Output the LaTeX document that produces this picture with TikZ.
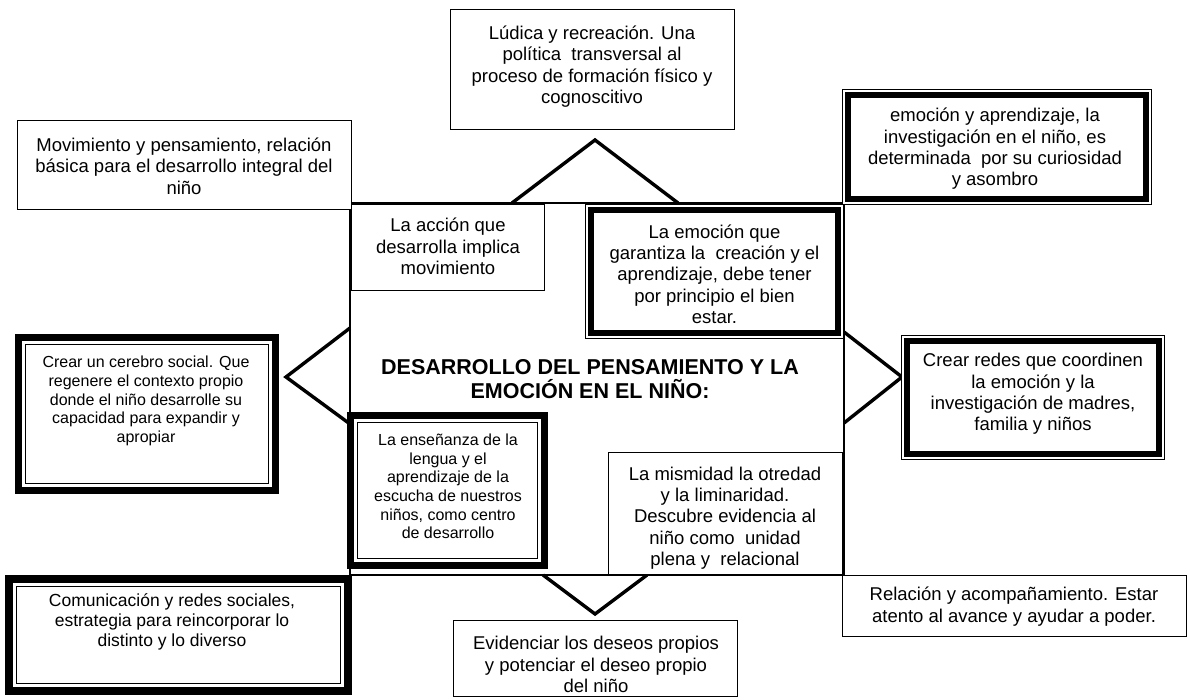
\documentclass[tikz,border=0pt]{standalone}
\usepackage{fontspec}
\setmainfont{Liberation Sans}
\usetikzlibrary{calc}
\newcommand\innerframe[3]{\draw[line width=#3] ($(#1.north west)+(#2,#2)$) rectangle ($(#1.south east)-(#2,#2)$);}
\tikzset{
  every node/.style={inner sep=0pt, outer sep=0pt},
  plainbox/.style={draw, line width=1.3pt, fill=white},
  thinthick/.style={draw, line width=1.3pt, fill=white},
  thickthin/.style={draw, line width=7pt, fill=white},
  centerbox/.style={draw, line width=1.2pt},
  chev/.style={line width=3.4pt, line join=miter},
  txt/.style={align=center, font=\fontsize{18.5}{21.3}\selectfont},
  smalltxt/.style={align=center, font=\fontsize{16}{18.6}\selectfont},
  titletxt/.style={align=center, font=\bfseries\fontsize{21.5}{23.5}\selectfont},
}
\begin{document}
\begin{tikzpicture}[x=1pt,y=-1pt]
\useasboundingbox[fill=white] (0,0) rectangle (1190,700);

% central frame
\node[centerbox, minimum width=494, minimum height=372] (ctr) at (597,389) {};

% chevron connectors
\coordinate (apT) at (595,140);
\coordinate (apL) at (286,377);
\coordinate (apR) at (902,377);
\coordinate (apB) at (595,614);
\draw[chev] (512,0 |- ctr.north) -- (apT) -- (678,0 |- ctr.north);
\draw[chev] (ctr.west |- 0,328) -- (apL) -- (ctr.west |- 0,424);
\draw[chev] (ctr.east |- 0,332) -- (apR) -- (ctr.east |- 0,423);
\draw[chev] (543,0 |- ctr.south) -- (apB) -- (647,0 |- ctr.south);

\node[titletxt] (title) at (590,379) {DESARROLLO DEL PENSAMIENTO Y LA\\EMOCIÓN EN EL NIÑO:};

% plain boxes
\node[plainbox, minimum width=284, minimum height=120] (ludica) at (592.5,69.5) {};
\node[txt] (ludicaT) at (592,66.5) {Lúdica y recreación. Una\\política\ \ transversal al\\proceso de formación físico y\\cognoscitivo};

\node[plainbox, minimum width=334, minimum height=89] (movim) at (184.5,165) {};
\node[txt] (movimT) at (184,166) {Movimiento y pensamiento, relación\\básica para el desarrollo integral del\\niño};

\node[plainbox, minimum width=193, minimum height=86] (accion) at (448,247.5) {};
\node[txt] (accionT) at (448,246.5) {La acción que\\desarrolla implica\\movimiento};

\node[plainbox, minimum width=234, minimum height=122] (mism) at (725.5,513.5) {};
\node[txt] (mismT) at (725,518) {La mismidad la otredad\\y la liminaridad.\\Descubre evidencia al\\niño como\ \ unidad\\plena y\ \ relacional};

\node[plainbox, minimum width=344, minimum height=61] (relac) at (1014.5,606) {};
\node[txt] (relacT) at (1014,606.5) {Relación y acompañamiento. Estar\\atento al avance y ayudar a poder.};

\node[plainbox, minimum width=284, minimum height=76] (evid) at (595.5,658.5) {};
\node[txt] (evidT) at (596,664.5) {Evidenciar los deseos propios\\y potenciar el deseo propio\\del niño};

% thin-outer / thick-inner boxes
\node[thinthick, minimum width=308.7, minimum height=114.7] (emoapr) at (997,147) {};
\innerframe{emoapr}{5.5}{6pt}
\node[txt] (emoaprT) at (995,149) {emoción y aprendizaje, la\\investigación en el niño, es\\determinada\ \ por su curiosidad\\y asombro};

\node[thinthick, minimum width=257.7, minimum height=133.7] (emoque) at (714.5,271.5) {};
\innerframe{emoque}{5.5}{6pt}
\node[txt] (emoqueT) at (714.5,274) {La emoción que\\garantiza la\ \ creación y el\\aprendizaje, debe tener\\por principio el bien\\estar.};

\node[thinthick, minimum width=262.7, minimum height=123.7] (redes) at (1033,397.5) {};
\innerframe{redes}{5.5}{6pt}
\node[txt] (redesT) at (1033,394) {Crear redes que coordinen\\la emoción y la\\investigación de madres,\\familia y niños};

% thick-outer / thin-inner boxes
\node[thickthin, minimum width=257, minimum height=153] (cerebro) at (147,414) {};
\innerframe{cerebro}{7}{1.3pt}
\node[smalltxt] (cerebroT) at (146,401) {Crear un cerebro social. Que\\regenere el contexto propio\\donde el niño desarrolle su\\capacidad para expandir y\\apropiar};

\node[thickthin, minimum width=194, minimum height=150] (ense) at (447.5,490.5) {};
\innerframe{ense}{7}{1.3pt}
\node[smalltxt] (enseT) at (448,486.5) {La enseñanza de la\\lengua y el\\aprendizaje de la\\escucha de nuestros\\niños, como centro\\de desarrollo};

\node[thickthin, line width=8pt, minimum width=339, minimum height=112] (comun) at (178.5,635) {};
\innerframe{comun}{7.5}{1.3pt}
\node[txt, font=\fontsize{17.5}{19.8}\selectfont] (comunT) at (172,622) {Comunicación y redes sociales,\\estrategia para reincorporar lo\\distinto y lo diverso};
\end{tikzpicture}
\end{document}
